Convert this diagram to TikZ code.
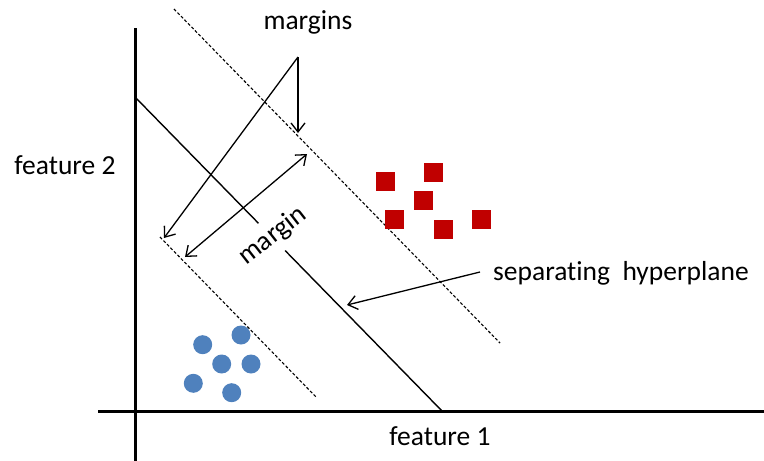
\documentclass[tikz,border=0pt]{standalone}
\usepackage{fontspec}
\setmainfont{Carlito}[Ligatures=NoCommon]
\usetikzlibrary{arrows.meta}
\definecolor{sqred}{HTML}{C00000}
\definecolor{dotblue}{HTML}{4F81BD}
\tikzset{
  axisline/.style={line width=3pt},
  solidline/.style={line width=1.4pt},
  dashline/.style={line width=1.1pt, dash pattern=on 3pt off 2pt},
  arr/.style={line width=1.3pt, -{Straight Barb[length=9pt,width=14pt]}},
  darr/.style={line width=1.3pt, {Straight Barb[length=9pt,width=14pt]}-{Straight Barb[length=9pt,width=14pt]}},
  lbl/.style={font=\fontsize{27.5}{30}\selectfont, inner sep=0pt},
  sq/.style={fill=sqred, draw=none, minimum size=19pt, inner sep=0pt, rectangle},
  dot/.style={fill=dotblue, draw=none, minimum size=19pt, inner sep=0pt, circle},
}
\begin{document}
\begin{tikzpicture}[x=1pt,y=-1pt]
\useasboundingbox (0,0) rectangle (764,461);
% axes
\coordinate (ytop) at (135,28);
\coordinate (ybot) at (135,461);
\coordinate (xl) at (98,411);
\coordinate (xr) at (764,411);
\draw[axisline] (ytop) -- (ybot);
\draw[axisline] (xl) -- (xr);
% hyperplane and margins
\coordinate (h1) at (135,97);
\coordinate (h2) at (442,411);
\draw[solidline] (h1) -- (h2);
\coordinate (u1) at (174,9);
\coordinate (u2) at (500,343);
\draw[dashline] (u1) -- (u2);
\coordinate (l1) at (160,237);
\coordinate (l2) at (317,398);
\draw[dashline] (l1) -- (l2);
% margin label (covers hyperplane)
\node[lbl, fill=white, inner xsep=3pt, inner ysep=7pt, rotate=38] (marg) at (273,236) {margin};
% margin double arrow
\coordinate (ma) at (185,257);
\coordinate (mb) at (307,154);
\draw[darr] (ma) -- (mb);
% margins label and arrows
\node[lbl] (margins) at (308,22) {margins};
\coordinate (mtip) at (298,57);
\coordinate (mdown) at (298,133);
\coordinate (mleft) at (164,238);
\draw[arr] (mtip) -- (mdown);
\draw[arr] (mtip) -- (mleft);
% separating hyperplane label
\node[lbl, anchor=west] (sep) at (493,273) {separating\ \ hyperplane};
\coordinate (sepstart) at (480,272);
\coordinate (sepend) at (347,305);
\draw[arr] (sepstart) -- (sepend);
% axis labels
\node[lbl] (f2) at (65,165) {feature 2};
\node[lbl] (f1) at (440,436) {feature 1};
% squares
\node[sq] (s1) at (385.5,181.5) {};
\node[sq] (s2) at (433.5,172.5) {};
\node[sq] (s3) at (423.5,200.5) {};
\node[sq] (s4) at (394.5,219.5) {};
\node[sq] (s5) at (443.5,229.5) {};
\node[sq] (s6) at (481.5,219.5) {};
% circles
\node[dot] (c1) at (202.7,344.7) {};
\node[dot] (c2) at (241,335) {};
\node[dot] (c3) at (221.7,364) {};
\node[dot] (c4) at (251,364) {};
\node[dot] (c5) at (193.3,383.3) {};
\node[dot] (c6) at (231.7,392.7) {};
\end{tikzpicture}
\end{document}
